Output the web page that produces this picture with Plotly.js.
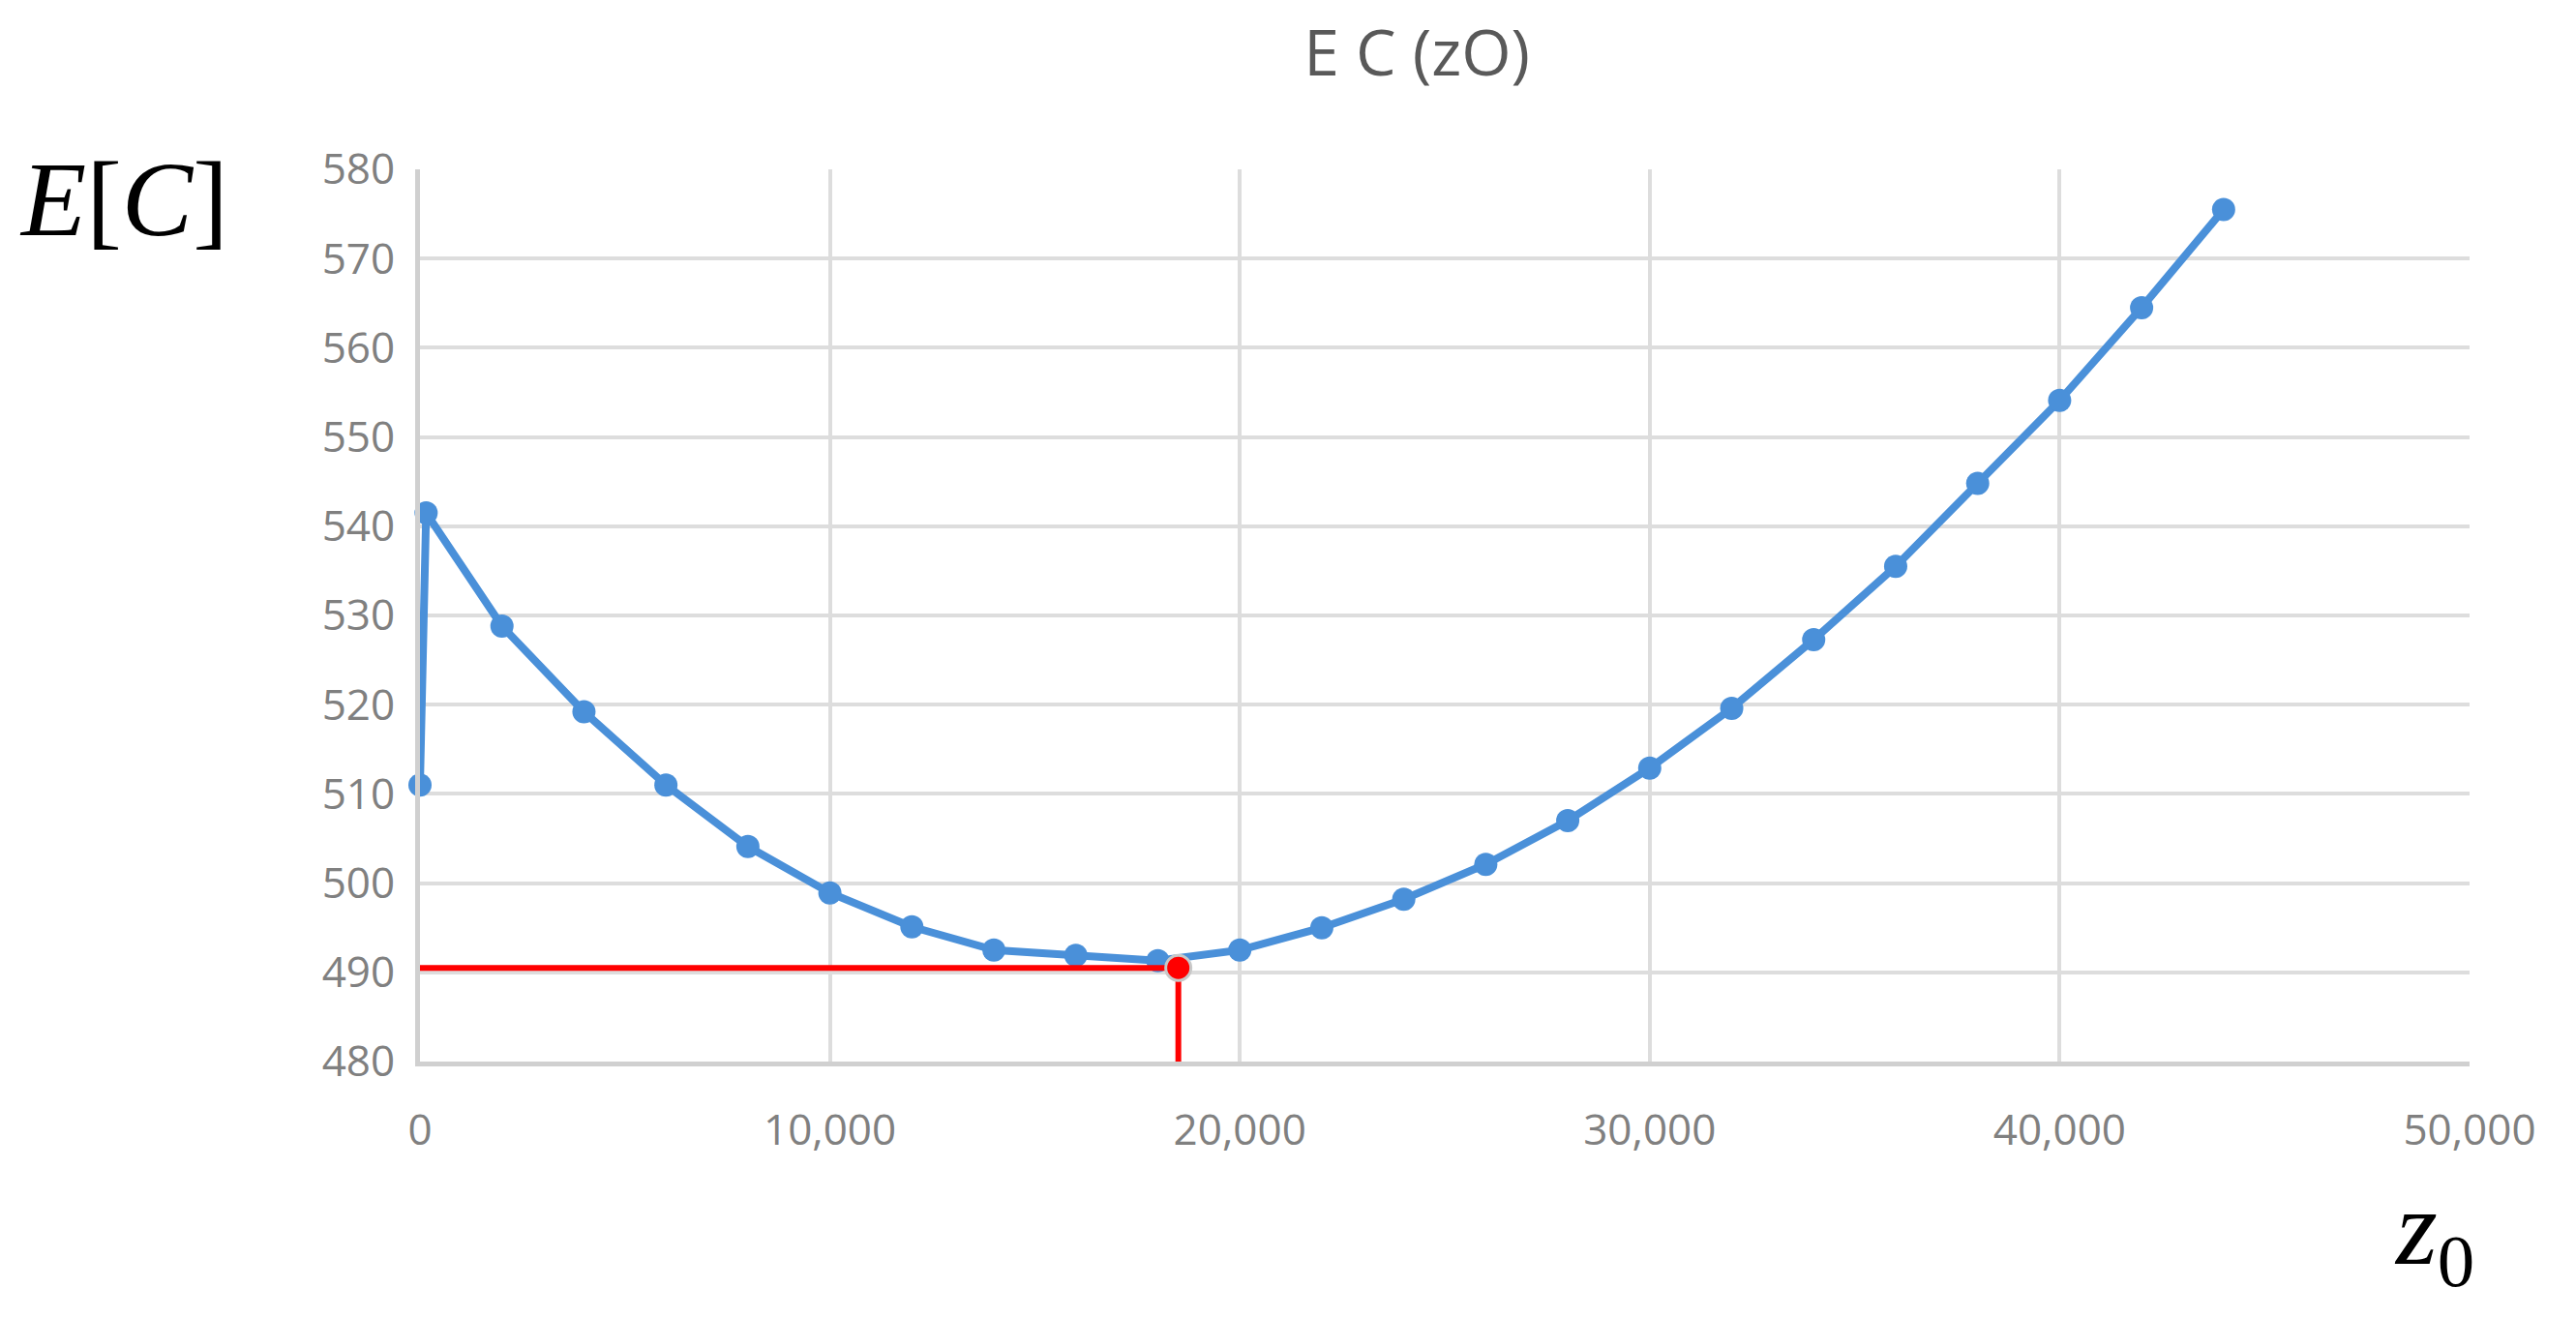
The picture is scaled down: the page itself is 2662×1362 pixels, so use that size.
<!DOCTYPE html>
<html>
<head>
<meta charset="utf-8">
<script src="https://cdn.plot.ly/plotly-3.0.1.min.js"></script>
<style>
html, body { margin: 0; padding: 0; background: #fff; }
#chart { width: 2662px; height: 1362px; }
</style>
</head>
<body>
<div id="chart"></div>
<script>
// expected cost E[C] against the order quantity z0
var z0 = [0, 150, 2000, 4000, 6000, 8000, 10000, 12000, 14000, 16000, 18000, 20000,
          22000, 24000, 26000, 28000, 30000, 32000, 34000, 36000, 38000, 40000, 42000, 44000];
var cost = [511.0, 541.5, 528.8, 519.2, 511.0, 504.1, 498.9, 495.1, 492.5, 491.9, 491.3, 492.5,
            495.0, 498.2, 502.1, 507.0, 512.9, 519.6, 527.3, 535.5, 544.8, 554.1, 564.5, 575.5];

// optimum marked in red
var optZ = 18500;
var optCost = 490.5;
var yFloor = 480;

var blue = '#4a90d9';
var red = '#ff0000';
var tickFont = {family: '"Open Sans", Lato, sans-serif', size: 44, color: '#808080'};

var curve = {
    x: z0,
    y: cost,
    type: 'scatter',
    mode: 'lines+markers',
    line: {color: blue, width: 8},
    marker: {color: blue, size: 24},
    cliponaxis: false
};

var hLine = {
    x: [0, optZ],
    y: [optCost, optCost],
    type: 'scatter',
    mode: 'lines',
    line: {color: red, width: 6}
};

var vLine = {
    x: [optZ, optZ],
    y: [yFloor, optCost],
    type: 'scatter',
    mode: 'lines',
    line: {color: red, width: 6}
};

var optPoint = {
    x: [optZ],
    y: [optCost],
    type: 'scatter',
    mode: 'markers',
    marker: {color: red, size: 26, line: {color: '#c8c8c8', width: 3}}
};

var layout = {
    width: 2662,
    height: 1362,
    margin: {l: 434, r: 110, t: 175, b: 265},
    paper_bgcolor: '#ffffff',
    plot_bgcolor: '#ffffff',
    showlegend: false,
    title: {
        text: 'E C (zO)',
        font: {family: '"Open Sans", Lato, sans-serif', size: 66, color: '#595959'},
        x: 0.55, xref: 'container', xanchor: 'center',
        y: 0.96, yref: 'container', yanchor: 'middle'
    },
    xaxis: {
        range: [0, 50000],
        dtick: 10000,
        tickformat: ',d',
        tickfont: tickFont,
        ticks: '',
        ticklabelstandoff: 28,
        showgrid: true,
        gridcolor: '#dddddd',
        gridwidth: 4,
        showline: true,
        linecolor: '#d0d0d0',
        linewidth: 5,
        zeroline: false
    },
    yaxis: {
        range: [yFloor, 580],
        dtick: 10,
        tickfont: tickFont,
        ticks: '',
        ticklabelstandoff: 12,
        showgrid: true,
        gridcolor: '#dddddd',
        gridwidth: 4,
        showline: true,
        linecolor: '#d0d0d0',
        linewidth: 5,
        zeroline: false
    },
    annotations: [
        {
            text: '<i>E</i>[<i>C</i>]',
            xref: 'paper', yref: 'paper',
            x: -0.1445, y: 0.966,
            xanchor: 'center', yanchor: 'middle',
            showarrow: false,
            font: {family: '"Liberation Serif", serif', size: 110, color: '#000000'}
        },
        {
            text: '<i>z</i><sub>0</sub>',
            xref: 'paper', yref: 'paper',
            x: 0.983, y: -0.195,
            xanchor: 'center', yanchor: 'middle',
            showarrow: false,
            font: {family: '"Liberation Serif", serif', size: 110, color: '#000000'}
        }
    ]
};

Plotly.newPlot('chart', [curve, hLine, vLine, optPoint], layout, {staticPlot: true});
</script>
</body>
</html>
